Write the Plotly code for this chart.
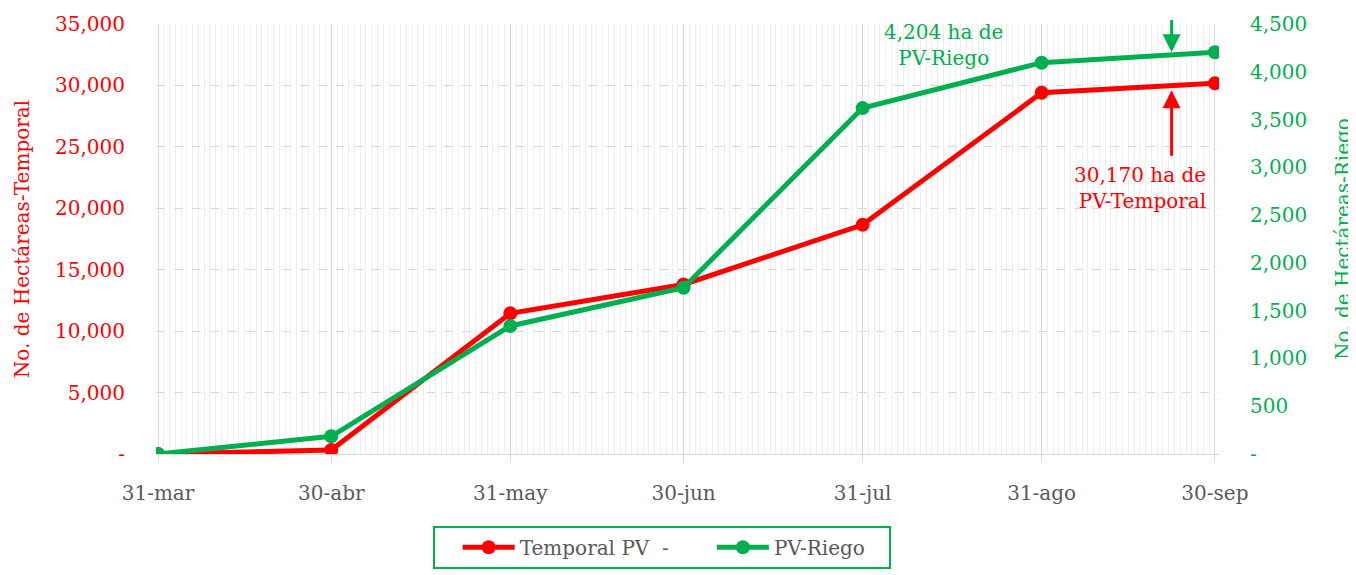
import plotly.graph_objects as go

dates = ["2024-03-31", "2024-04-30", "2024-05-31", "2024-06-30", "2024-07-31", "2024-08-31", "2024-09-30"]
tick_labels = ["31-mar", "30-abr", "31-may", "30-jun", "31-jul", "31-ago", "30-sep"]
temporal = [0, 320, 11450, 13800, 18650, 29400, 30170]
riego = [0, 185, 1340, 1740, 3620, 4095, 4204]

left_ticks = [0, 5000, 10000, 15000, 20000, 25000, 30000, 35000]
left_labels = ["-"] + [f"{v:,}" for v in left_ticks[1:]]
right_ticks = [0, 500, 1000, 1500, 2000, 2500, 3000, 3500, 4000, 4500]
right_labels = ["-"] + [f"{v:,}" for v in right_ticks[1:]]

RED = "#ff0000"
GREEN = "#00b050"
GRAY = "#595959"
FONT = "DejaVu Serif"
FS = 20
NB = "\u00a0"

fig = go.Figure()
fig.add_trace(go.Scatter(x=dates, y=temporal, name="Temporal PV  -" + NB * 6, mode="lines+markers",
                         line=dict(color=RED, width=5), marker=dict(size=14, color=RED), yaxis="y"))
fig.add_trace(go.Scatter(x=dates, y=riego, name="PV-Riego" + NB * 3, mode="lines+markers",
                         line=dict(color=GREEN, width=5), marker=dict(size=14, color=GREEN), yaxis="y2"))

fig.update_layout(
    width=1348, height=567,
    margin=dict(l=148, r=137, t=16, b=121, autoexpand=False),
    plot_bgcolor="white", paper_bgcolor="white",
    font=dict(family=FONT, size=FS, color=GRAY),
    showlegend=True,
    legend=dict(orientation="h", x=0.476, xanchor="center", y=-0.167, yanchor="top",
                bordercolor=GREEN, borderwidth=2, font=dict(size=FS, color=GRAY),
                itemwidth=52, traceorder="normal",
                title=dict(text=NB * 2, font=dict(size=FS))),
    xaxis=dict(
        type="date", range=["2024-03-30 15:40", "2024-09-30 17:00"],
        tickvals=dates, ticktext=tick_labels,
        showgrid=True, gridcolor="#d9d9d9", gridwidth=1,
        minor=dict(dtick=86400000, tick0="2024-03-31", showgrid=True, gridcolor="#ededed", gridwidth=1),
        showline=True, linecolor="#d9d9d9", linewidth=1,
        ticks="outside", ticklen=8, tickcolor="#d9d9d9",
        tickfont=dict(size=FS, color=GRAY), ticklabelstandoff=13,
        zeroline=False, automargin=False,
    ),
    yaxis=dict(
        range=[0, 35000], tickvals=left_ticks, ticktext=left_labels,
        showgrid=True, gridcolor="#d9d9d9", griddash="dash", gridwidth=1,
        tickfont=dict(size=FS, color=RED), ticklabelstandoff=30,
        title=dict(text="No. de Hectáreas-Temporal", font=dict(size=FS, color=RED), standoff=20),
        zeroline=False, showline=False, automargin=False,
    ),
    yaxis2=dict(
        range=[0, 4500], tickvals=right_ticks, ticktext=right_labels,
        overlaying="y", side="right", showgrid=False,
        tickfont=dict(size=FS, color=GREEN), ticklabelstandoff=30,
        title=dict(text="No. de Hectáreas-Riego", font=dict(size=FS, color=GREEN), standoff=29),
        zeroline=False, showline=False, automargin=False,
    ),
)

fig.add_annotation(x="2024-08-14", y=33300, xref="x", yref="y", text="4,204 ha de<br>PV-Riego",
                   showarrow=False, font=dict(size=FS, color=GREEN), align="center")
fig.add_annotation(x="2024-09-17", y=21650, xref="x", yref="y", text="30,170 ha de<br>PV-Temporal",
                   showarrow=False, font=dict(size=FS, color=RED), align="right")
fig.add_annotation(x="2024-09-22 12:00", y=32700, xref="x", yref="y",
                   ax="2024-09-22 12:00", ay=35450, axref="x", ayref="y",
                   showarrow=True, arrowhead=2, arrowsize=1.2, arrowwidth=3, arrowcolor=GREEN, text="")
fig.add_annotation(x="2024-09-22 12:00", y=29600, xref="x", yref="y",
                   ax="2024-09-22 12:00", ay=24150, axref="x", ayref="y",
                   showarrow=True, arrowhead=2, arrowsize=1.2, arrowwidth=3, arrowcolor=RED, text="")

fig.write_html("out.html")
